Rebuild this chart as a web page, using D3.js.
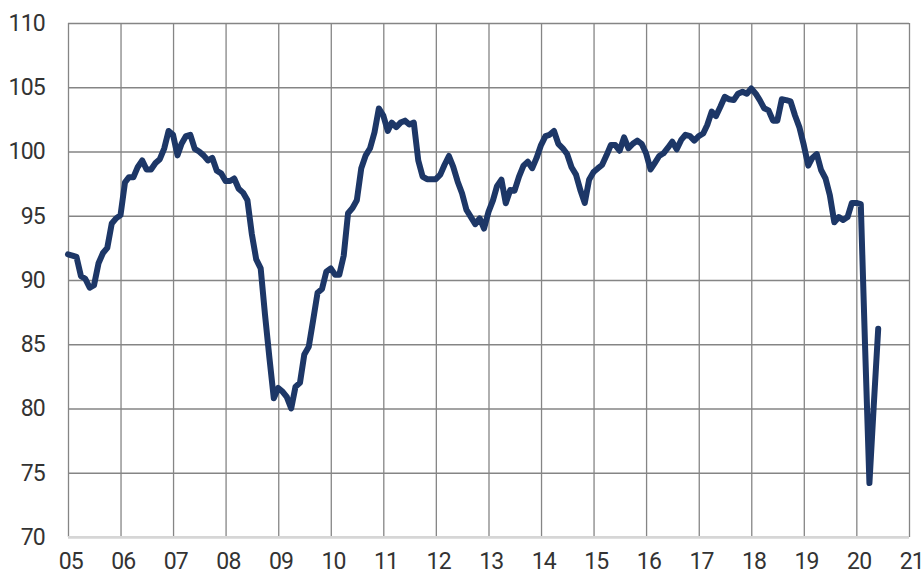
<!DOCTYPE html>
<html>
<head>
<meta charset="utf-8">
<script src="https://cdn.jsdelivr.net/npm/d3@7"></script>
<style>
  body { margin: 0; background: #fff; }
  .axis text { font-family: Roboto, "Noto Sans", sans-serif; font-size: 23px; letter-spacing: -0.8px; fill: #333; }
</style>
</head>
<body>
<div class="chart-container"></div>
<script>
// monthly index, Jan 2005 - Jun 2020
const startYear = 2005;
const indexValues = [
  92.0, 91.9, 91.8, 90.3, 90.1, 89.4, 89.6, 91.3, 92.1, 92.5, 94.4, 94.8,        // 2005
  95.05, 97.6, 98.0, 98.0, 98.8, 99.3, 98.6, 98.6, 99.1, 99.4, 100.25, 101.6,    // 2006
  101.3, 99.7, 100.6, 101.2, 101.3, 100.2, 100.0, 99.7, 99.3, 99.5, 98.5, 98.3,  // 2007
  97.7, 97.7, 97.9, 97.1, 96.8, 96.2, 93.6, 91.6, 90.9, 87.3, 83.9, 80.8,        // 2008
  81.6, 81.3, 80.9, 80.0, 81.7, 82.0, 84.2, 84.8, 86.9, 89.0, 89.3, 90.65,       // 2009
  90.9, 90.4, 90.4, 91.9, 95.2, 95.6, 96.2, 98.7, 99.7, 100.25, 101.5, 103.35,   // 2010
  102.8, 101.6, 102.25, 101.9, 102.25, 102.4, 102.1, 102.25, 99.3, 98.05, 97.85, 97.85, // 2011
  97.85, 98.2, 98.95, 99.65, 98.8, 97.65, 96.75, 95.45, 94.9, 94.35, 94.8, 94.0, // 2012
  95.3, 96.2, 97.3, 97.8, 95.97, 97.0, 96.95, 98.05, 98.9, 99.2, 98.7, 99.5,     // 2013
  100.5, 101.2, 101.3, 101.6, 100.6, 100.25, 99.8, 98.77, 98.2, 97.0, 96.0, 97.8, // 2014
  98.4, 98.7, 98.95, 99.7, 100.5, 100.5, 100.06, 101.1, 100.25, 100.6, 100.85, 100.6, // 2015
  99.86, 98.6, 99.1, 99.65, 99.86, 100.3, 100.76, 100.17, 100.9, 101.3, 101.2, 100.85, // 2016
  101.2, 101.4, 102.06, 103.1, 102.76, 103.5, 104.26, 104.06, 104.0, 104.5, 104.65, 104.5, // 2017
  104.9, 104.5, 104.0, 103.36, 103.2, 102.4, 102.4, 104.06, 104.0, 103.9, 102.8, 101.9, // 2018
  100.5, 98.9, 99.5, 99.8, 98.56, 97.9, 96.6, 94.5, 94.9, 94.67, 94.9, 96.0,     // 2019
  96.0, 95.9, 85.1, 74.2, 80.2, 86.2                                             // 2020
];
const yTicks = [70, 75, 80, 85, 90, 95, 100, 105, 110];
const xTickLabels = ['05','06','07','08','09','10','11','12','13','14','15','16','17','18','19','20','21'];

const data = indexValues.map((v, i) => ({ date: new Date(startYear, i, 1), value: v }));

const svg_width = 924;
const svg_height = 576;
const margin = { top: 23, right: 15, bottom: 39, left: 68 };
const chart_width = svg_width - margin.left - margin.right;
const chart_height = svg_height - margin.top - margin.bottom;

const svg = d3.select('.chart-container').append('svg')
  .attr('width', svg_width).attr('height', svg_height);
const g = svg.append('g').attr('transform', `translate(${margin.left},${margin.top})`);

const xScale = d3.scaleTime()
  .domain([new Date(startYear, 0, 1), new Date(startYear + xTickLabels.length - 1, 0, 1)])
  .range([0, chart_width]);
const yScale = d3.scaleLinear().domain([70, 110]).range([chart_height, 0]);

// horizontal grid + y labels
const yAxis = d3.axisLeft(yScale).tickValues(yTicks).tickSize(-chart_width).tickPadding(23);
const yAxisDraw = g.append('g').attr('class', 'y axis').call(yAxis);
yAxisDraw.select('.domain').remove();
yAxisDraw.selectAll('line').attr('stroke', '#858585').attr('stroke-width', 1.3);

// vertical grid + x labels
const xDates = xTickLabels.map((t, i) => new Date(startYear + i, 0, 1));
const xAxis = d3.axisBottom(xScale).tickValues(xDates).tickSize(-chart_height).tickPadding(16)
  .tickFormat((d, i) => xTickLabels[i]);
const xAxisDraw = g.append('g').attr('class', 'x axis')
  .attr('transform', `translate(0,${chart_height})`).call(xAxis);
xAxisDraw.select('.domain').remove();
xAxisDraw.selectAll('line').attr('stroke', '#858585').attr('stroke-width', 1.3);
xAxisDraw.selectAll('text').attr('dx', '0.1em');

// light bottom line over the vertical grid
g.append('line')
  .attr('x1', 0).attr('x2', chart_width)
  .attr('y1', yScale(70)).attr('y2', yScale(70))
  .attr('stroke', '#d6d6d6').attr('stroke-width', 2);

const line = d3.line().x(d => xScale(d.date)).y(d => yScale(d.value));
g.append('path')
  .datum(data)
  .attr('d', line)
  .attr('fill', 'none')
  .attr('stroke', '#1d3767')
  .attr('stroke-width', 6)
  .attr('stroke-linejoin', 'round')
  .attr('stroke-linecap', 'round');
</script>
</body>
</html>
